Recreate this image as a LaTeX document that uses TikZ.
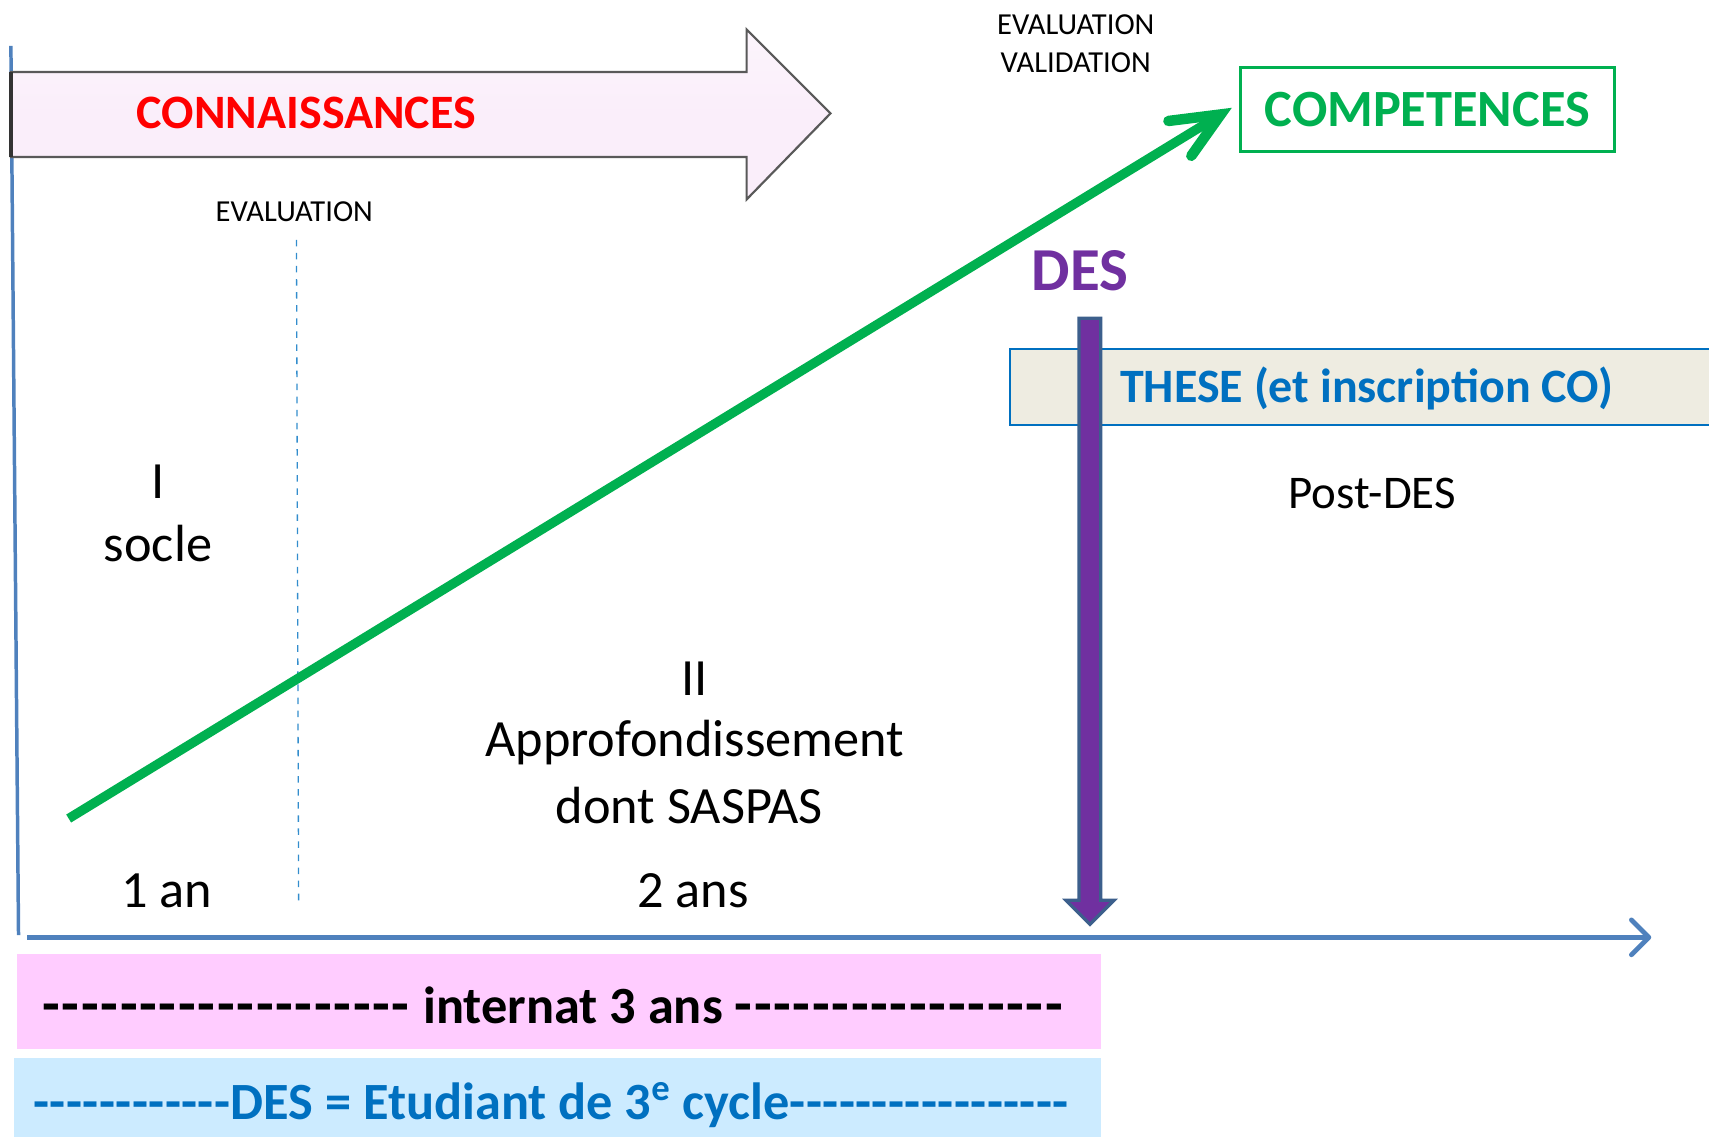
\documentclass[tikz,border=0pt]{standalone}
\usepackage{fontspec}
\setmainfont{Carlito}
\usetikzlibrary{arrows.meta}
\definecolor{axisblue}{HTML}{4F81BD}
\definecolor{cgreen}{HTML}{00B050}
\definecolor{cpurple}{HTML}{7030A0}
\definecolor{cblue}{HTML}{0070C0}
\definecolor{pinkfill}{HTML}{FFCCFF}
\definecolor{lbluefill}{HTML}{CCEBFF}
\definecolor{thesefill}{HTML}{EEECE1}
\definecolor{arrowpink}{HTML}{FAEEFA}
\definecolor{slateb}{HTML}{3C5F8C}
\newcommand\dashrun[3]{{\fontsize{#3}{#3}\selectfont\foreach \i in {1,...,#1}{-\kern#2}}}
\begin{document}
\begin{tikzpicture}[x=0.5pt,y=-0.5pt,
  txt/.style={inner sep=0pt, align=center, font=\fontsize{24}{29}\selectfont},
  smalltxt/.style={inner sep=0pt, font=\fontsize{14}{17}\selectfont},
  band/.style={draw=none, inner sep=0pt}]
\useasboundingbox (0,0) rectangle (1568,1043);
% axes
\coordinate (vtop) at (10,42);
\coordinate (vbot) at (17,858);
\draw[axisblue, line width=1.6pt] (vtop) -- (vbot);
\coordinate (hstart) at (25,860);
\coordinate (hend) at (1515,860);
\draw[axisblue, line width=2.2pt, -{Straight Barb[length=8pt,width=16pt,round]}] (hstart) -- (hend);
% knowledge arrow
\draw[draw=gray!70!black, line width=1pt, top color=arrowpink!60!white, bottom color=arrowpink, middle color=arrowpink]
  (10,66) -- (685,66) -- (685,27) -- (762,104) -- (685,183) -- (685,144) -- (10,144) -- cycle;
\draw[black!80, line width=1.5pt] (10,66) -- (10,144);
\node[txt, font=\fontsize{22}{26}\selectfont\bfseries, text=red] (conn) at (281,104) {CONNAISSANCES};
% evaluation 1
\node[smalltxt] (eval1) at (270,194) {EVALUATION};
\coordinate (dtop) at (272,220);
\coordinate (dbot) at (274,830);
\draw[cblue!80, line width=0.6pt, dashed] (dtop) -- (dbot);
% evaluation validation
\node[smalltxt, align=center, font=\fontsize{14}{17.5}\selectfont] (eval2) at (987,40) {EVALUATION\\VALIDATION};
% competences
\node[draw=cgreen, line width=1.5pt, minimum width=171.5pt, minimum height=38.5pt, inner sep=0pt,
  text=cgreen, font=\fontsize{24}{28}\selectfont\bfseries] (comp) at (1309.5,100.5) {COMPETENCES};
% green arrow
\coordinate (gstart) at (63,751);
\coordinate (gend) at (1120,105);
\coordinate (gshaftend) at (1112,110);
\coordinate (gbarbA) at (1072,111);
\coordinate (gbarbB) at (1093,143);
\draw[cgreen, line width=4.3pt] (gstart) -- (gshaftend);
\draw[cgreen, line width=4.8pt, line cap=round, line join=miter, miter limit=10] (gbarbA) -- (gend) -- (gbarbB);
% THESE band
\node[draw=cblue, line width=0.7pt, fill=thesefill, minimum width=323pt, minimum height=35pt,
  inner sep=0pt, anchor=west] (these) at (926,355) {};
\node[inner sep=0pt, text=cblue, font=\fontsize{22}{26}\selectfont\bfseries] (thesetxt) at (1254,356) {THESE (et inscription CO)};
% DES and purple arrow
\node[inner sep=0pt, text=cpurple, font=\fontsize{28}{32}\selectfont\bfseries] (des) at (991,248) {DES};
\draw[draw=slateb, line width=1.5pt, fill=cpurple]
  (990,292) -- (1010,292) -- (1010,826) -- (1022,826) -- (1000,848) -- (978,826) -- (990,826) -- cycle;
\node[txt, font=\fontsize{21.5}{25}\selectfont] (post) at (1259,453) {Post-DES};
% phase labels
\node[txt] (p1) at (145,471) {I\\socle};
\node[txt] (p2a) at (637,623) {II};
\node[txt] (p2b) at (637.5,681) {Approfondissement};
\node[txt] (p2c) at (632.5,739) {dont SASPAS};
\node[txt] (y1) at (153,817) {1 an};
\node[txt] (y2) at (636,817) {2 ans};
% bottom bands
\node[band, fill=pinkfill, minimum width=497.5pt, minimum height=43.5pt, anchor=north west] (internat) at (15,875) {};
\node[inner sep=0pt, font=\fontsize{24}{28}\selectfont\bfseries] (internattxt) at (508,922) {\dashrun{19}{0.8pt}{26.5} internat 3 ans \dashrun{17}{0.8pt}{26.5}};
\node[band, fill=lbluefill, minimum width=499pt, minimum height=37pt, anchor=north west] (desband) at (12,970) {};
\node[inner sep=0pt, text=cblue, font=\fontsize{24}{28}\selectfont\bfseries] (destxt) at (506,1014) {\dashrun{12}{0.2pt}{24}DES = Etudiant de 3\textsuperscript{e} cycle\dashrun{17}{0.2pt}{24}};
\end{tikzpicture}
\end{document}
